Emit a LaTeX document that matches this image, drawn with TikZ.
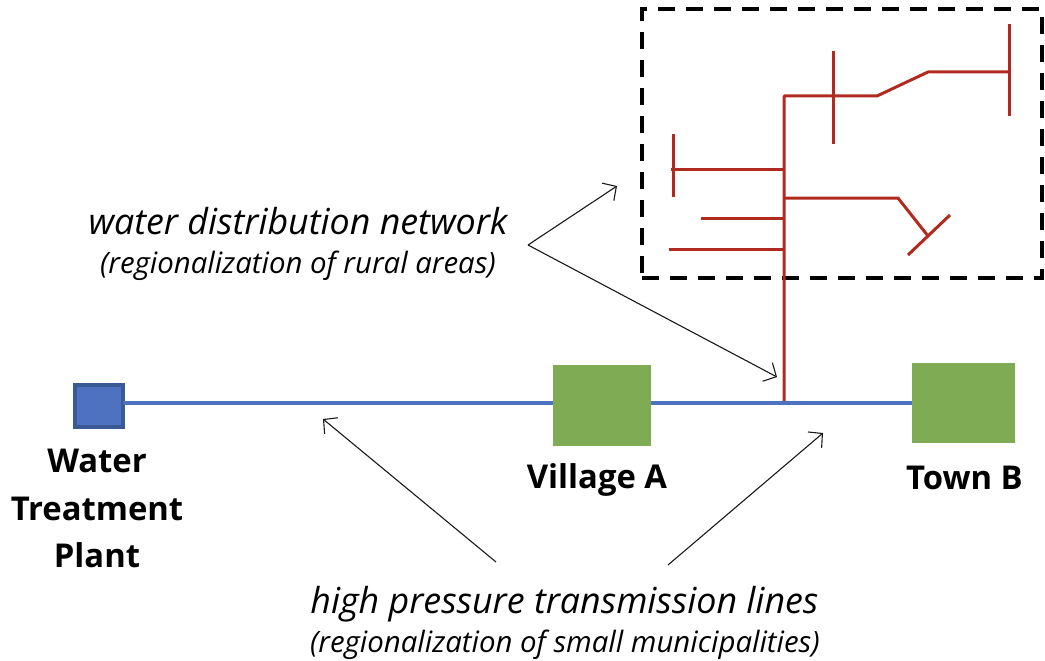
\documentclass[tikz,border=0pt]{standalone}
\usepackage{fontspec}
\setmainfont{Open Sans}
\usetikzlibrary{arrows.meta}
\definecolor{pipeblue}{HTML}{4F72C0}
\definecolor{plantedge}{HTML}{3A5A96}
\definecolor{placegreen}{HTML}{7FAB55}
\definecolor{netred}{HTML}{B02A20}
\tikzset{
  x=1pt,y=-1pt,
  placebox/.style={draw=none,fill=placegreen,minimum width=#1,inner sep=0pt,outer sep=0pt},
  plantbox/.style={draw=plantedge,line width=3.4pt,fill=pipeblue,inner sep=0pt,outer sep=0pt,minimum width=48pt,minimum height=42pt},
  bluepipe/.style={draw=pipeblue,line width=3.6pt},
  redpipe/.style={draw=netred,line width=3pt,line join=round},
  callout/.style={draw=black!90,line width=1.1pt,-{Straight Barb[length=10pt,width=21pt,line width=1.1pt]}},
  boldlabel/.style={font=\fontsize{32.8}{38}\selectfont\bfseries,inner sep=0pt,align=center},
  bigital/.style={font=\fontsize{35.8}{42}\selectfont\itshape,inner sep=0pt},
  smallital/.style={font=\fontsize{29.4}{34}\selectfont\itshape,inner sep=0pt},
  netbox/.style={draw=black,line width=3.6pt,dash pattern=on 17pt off 11pt},
}
\begin{document}
\begin{tikzpicture}
\useasboundingbox (0,0) rectangle (1045,661);
% dashed frame
\node[netbox,minimum width=400pt,minimum height=269pt,inner sep=0pt,outer sep=0pt] (frame) at (842,143.5) {};
% red network
\coordinate (tap) at (784,403);
\coordinate (corner) at (784,96);
\coordinate (r1) at (877,96);
\coordinate (r2) at (928,72);
\coordinate (r3) at (1009,72);
\coordinate (r3a) at (1009,24);
\coordinate (r3b) at (1009,116);
\coordinate (b1) at (833,96);
\coordinate (b1a) at (833,51);
\coordinate (b1b) at (833,144);
\coordinate (l1) at (784,169);
\coordinate (l1e) at (671,169);
\coordinate (l1a) at (673,134);
\coordinate (l1b) at (673,197);
\coordinate (l2) at (784,218);
\coordinate (l2e) at (701,218);
\coordinate (l3) at (784,249);
\coordinate (l3e) at (669,249);
\coordinate (k0) at (784,198);
\coordinate (k1) at (898,198);
\coordinate (k2) at (928,236);
\coordinate (k2a) at (908,255);
\coordinate (k2b) at (950,215);
\draw[redpipe] (tap) -- (corner) -- (r1) -- (r2) -- (r3);
\draw[redpipe] (r3a) -- (r3b);
\draw[redpipe] (b1a) -- (b1b);
\draw[redpipe] (l1) -- (l1e);
\draw[redpipe] (l1a) -- (l1b);
\draw[redpipe] (l2) -- (l2e);
\draw[redpipe] (l3) -- (l3e);
\draw[redpipe] (k0) -- (k1) -- (k2);
\draw[redpipe] (k2a) -- (k2b);
% blue line and stations
\node[plantbox] (plant) at (99,406) {};
\node[placebox=98pt,minimum height=81pt] (village) at (602,405.5) {};
\node[placebox=103pt,minimum height=80pt] (town) at (963.5,403) {};
\coordinate (plantE) at (plant.east |- tap);
\coordinate (villW) at (village.west |- tap);
\coordinate (villE) at (village.east |- tap);
\coordinate (townW) at (town.west |- tap);
\draw[bluepipe] (plantE) -- (villW);
\draw[bluepipe] (villE) -- (townW);
% labels
\node[boldlabel] (plantL1) at (97,461) {Water};
\node[boldlabel] (plantL2) at (97,509) {Treatment};
\node[boldlabel] (plantL3) at (97,555) {Plant};
\node[boldlabel] (villageL) at (597,480) {Village A};
\node[boldlabel] (townL) at (964.5,478) {Town B};
\node[bigital] (distL) at (298,221) {water distribution network};
\node[smallital] (distS) at (298,266) {(regionalization of rural areas)};
\node[bigital] (transL) at (564.5,604) {high pressure transmission lines};
\node[smallital] (transS) at (565,645) {(regionalization of small municipalities)};
% callouts
\coordinate (dOrigin) at (528,245);
\coordinate (dT1) at (617,186);
\coordinate (dT2) at (777,377);
\coordinate (tO1) at (496,562);
\coordinate (tT1) at (323,419);
\coordinate (tO2) at (668,565);
\coordinate (tT2) at (823,433);
\draw[callout] (dOrigin) -- (dT1);
\draw[callout] (dOrigin) -- (dT2);
\draw[callout] (tO1) -- (tT1);
\draw[callout] (tO2) -- (tT2);
\end{tikzpicture}
\end{document}
